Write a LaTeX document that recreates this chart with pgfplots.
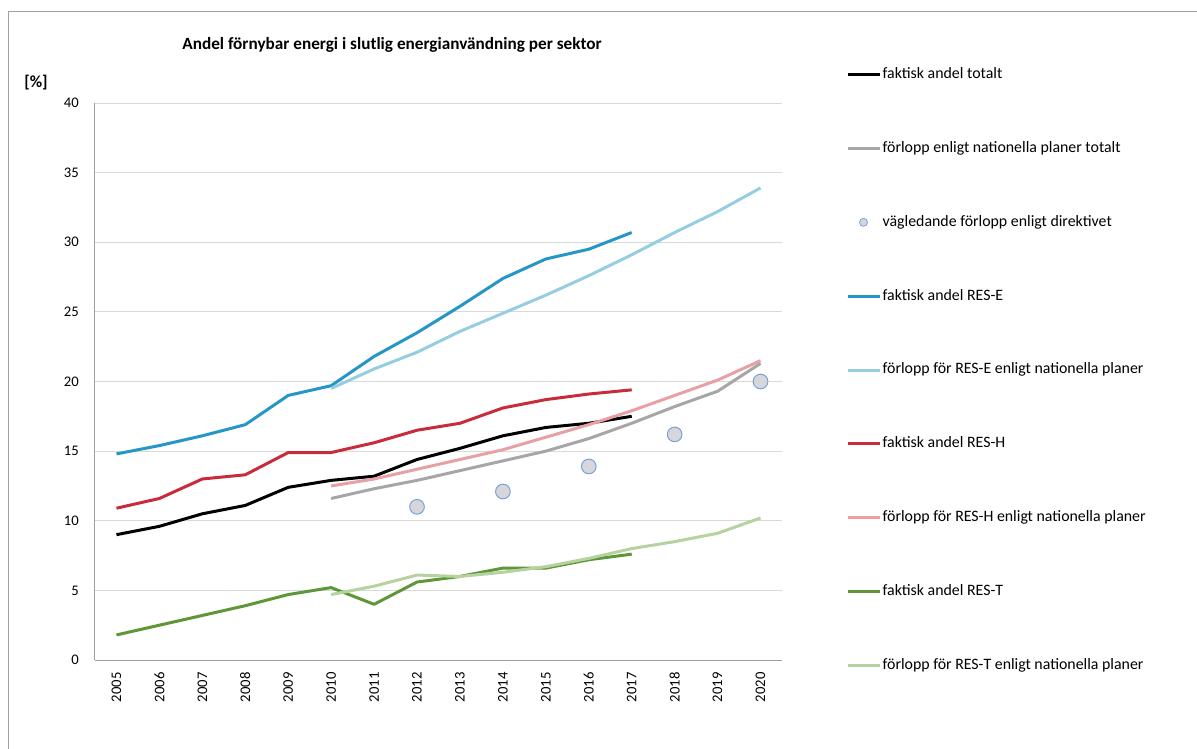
\documentclass[border=0pt]{standalone}
\usepackage{fontspec}
\setmainfont{Carlito}
\usepackage{pgfplots}
\usepackage{pgfplotstable}
\pgfplotsset{compat=1.18}
\definecolor{cTot}{RGB}{0,0,0}
\definecolor{cTotPlan}{RGB}{166,166,166}
\definecolor{cE}{RGB}{38,150,198}
\definecolor{cEPlan}{RGB}{150,205,225}
\definecolor{cH}{RGB}{200,44,58}
\definecolor{cHPlan}{RGB}{232,160,166}
\definecolor{cT}{RGB}{95,150,55}
\definecolor{cTPlan}{RGB}{182,210,160}
\definecolor{dotfill}{RGB}{215,215,218}
\definecolor{dotedge}{RGB}{120,160,220}
\definecolor{gridc}{RGB}{217,217,217}
\definecolor{axc}{RGB}{160,160,160}
\pgfplotstableread{
year tot totplan rese reseplan resh reshplan rest restplan dir
2005 9.0 nan 14.8 nan 10.9 nan 1.8 nan nan
2006 9.6 nan 15.4 nan 11.6 nan 2.5 nan nan
2007 10.5 nan 16.1 nan 13.0 nan 3.2 nan nan
2008 11.1 nan 16.9 nan 13.3 nan 3.9 nan nan
2009 12.4 nan 19.0 nan 14.9 nan 4.7 nan nan
2010 12.9 11.6 19.7 19.5 14.9 12.5 5.2 4.7 nan
2011 13.2 12.3 21.8 20.9 15.6 13.0 4.0 5.3 nan
2012 14.4 12.9 23.5 22.1 16.5 13.7 5.6 6.1 11.0
2013 15.2 13.6 25.4 23.6 17.0 14.4 6.0 6.0 nan
2014 16.1 14.3 27.4 24.9 18.1 15.1 6.6 6.3 12.1
2015 16.7 15.0 28.8 26.2 18.7 16.0 6.6 6.7 nan
2016 17.0 15.9 29.5 27.6 19.1 16.9 7.2 7.3 13.9
2017 17.5 17.0 30.7 29.1 19.4 17.9 7.6 8.0 nan
2018 nan 18.2 nan 30.7 nan 19.0 nan 8.5 16.2
2019 nan 19.3 nan 32.2 nan 20.1 nan 9.1 nan
2020 nan 21.3 nan 33.9 nan 21.5 nan 10.2 20.0
}\data
\begin{document}
\begin{tikzpicture}
\path[use as bounding box] (0pt,0pt) rectangle (897.75pt,-561.75pt);
\draw[axc, line width=0.75pt] (6pt,-561.75pt) -- (6pt,-9pt) -- (897.75pt,-9pt);
\begin{axis}[
  at={(71.25pt,-495pt)}, anchor=south west,
  scale only axis, width=515.25pt, height=417.75pt,
  font=\fontsize{11}{13}\selectfont,
  xmin=2004.5, xmax=2020.5, ymin=0, ymax=40,
  xtick={2005,...,2020}, ytick={0,5,...,40},
  /pgf/number format/assume math mode=true,
  /pgf/number format/1000 sep={},
  axis x line*=bottom, axis y line*=left,
  axis line style={axc, line width=0.75pt, -},
  major tick length=0pt,
  ymajorgrids, grid style={gridc, line width=0.75pt},
  yticklabel style={anchor=east, inner sep=0pt, xshift=-12pt},
  xticklabel style={yshift=-9pt, rotate=90, anchor=east, inner sep=0pt},
  unbounded coords=jump,
  every axis plot/.append style={line width=2.25pt, line join=round},
  legend image code/.code={\draw[#1] (0pt,0pt) -- (24pt,0pt);},
  legend cell align=left,
  legend style={at={(1.0932,0.5205)}, anchor=west, draw=none, fill=none,
    inner sep=0pt, outer sep=0pt, row sep=44.1pt, column sep=1.2pt,
    nodes={inner sep=0pt, text height=8.5pt, text depth=2.8pt, font=\fontsize{11.9}{13}\selectfont}},
  clip=false,
]
\addplot[cTot] table[x=year,y=tot]{\data};
\addlegendentry{faktisk andel totalt}
\addplot[cTotPlan] table[x=year,y=totplan]{\data};
\addlegendentry{förlopp enligt nationella planer totalt}
\addplot[only marks, mark=*, mark size=5.5pt, mark options={fill=dotfill, draw=dotedge, line width=0.75pt},
  legend image code/.code={\draw[draw=dotedge, fill=dotfill, line width=0.6pt] (12pt,0pt) circle (3pt);}]
  table[x=year,y=dir]{\data};
\addlegendentry{vägledande förlopp enligt direktivet}
\addplot[cE] table[x=year,y=rese]{\data};
\addlegendentry{faktisk andel RES-E}
\addplot[cEPlan] table[x=year,y=reseplan]{\data};
\addlegendentry{förlopp för RES-E enligt nationella planer}
\addplot[cH] table[x=year,y=resh]{\data};
\addlegendentry{faktisk andel RES-H}
\addplot[cHPlan] table[x=year,y=reshplan]{\data};
\addlegendentry{förlopp för RES-H enligt nationella planer}
\addplot[cT] table[x=year,y=rest]{\data};
\addlegendentry{faktisk andel RES-T}
\addplot[cTPlan] table[x=year,y=restplan]{\data};
\addlegendentry{förlopp för RES-T enligt nationella planer}
\node[font=\bfseries\fontsize{12.9}{14}\selectfont] at (axis description cs:0.4323,1.1041) {Andel förnybar energi i slutlig energianvändning per sektor};
\node[font=\bfseries\fontsize{12.7}{14}\selectfont] at (axis description cs:-0.0859,1.0359) {[\%]};
\end{axis}
\end{tikzpicture}
\end{document}
